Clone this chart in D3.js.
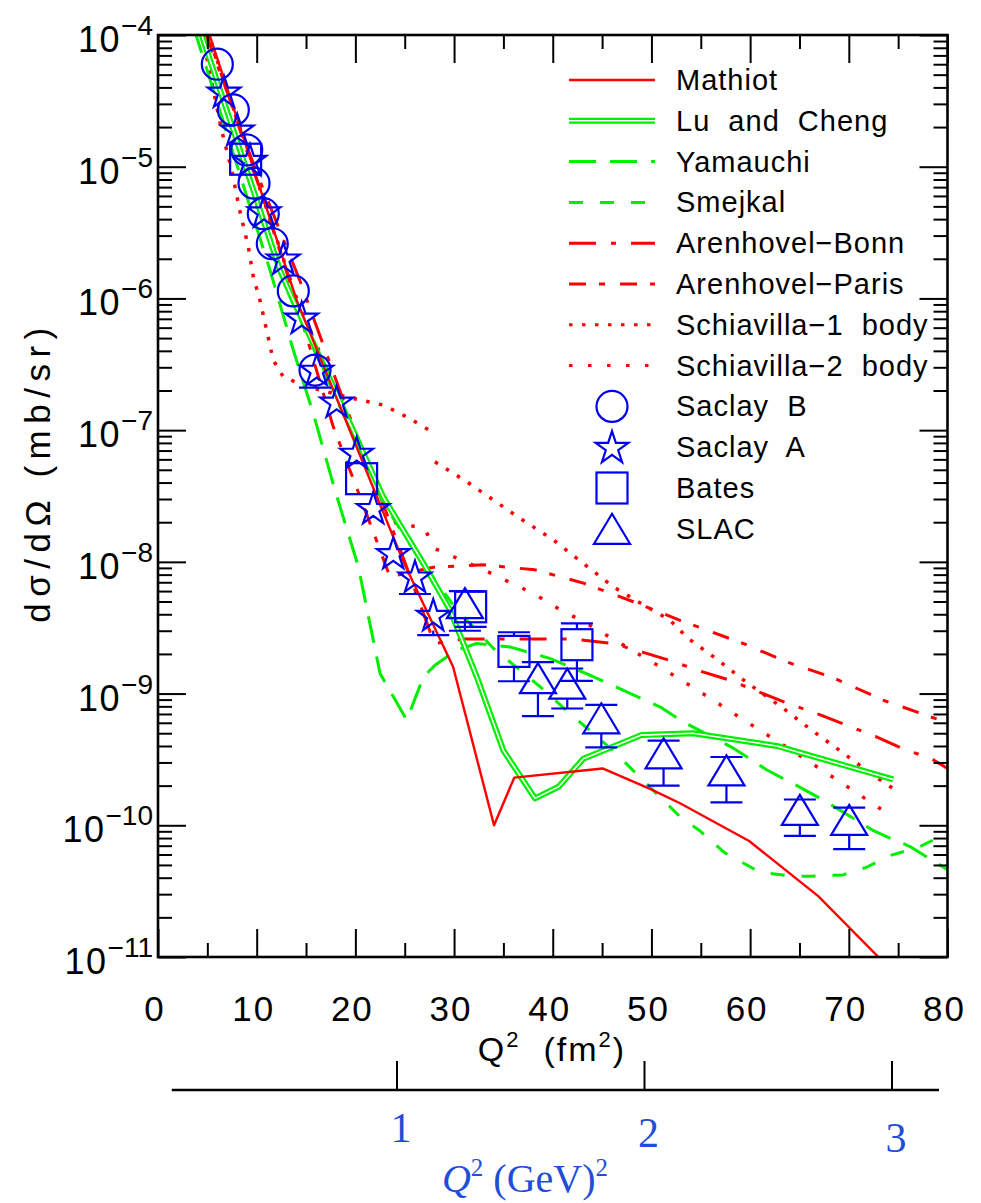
<!DOCTYPE html>
<html>
<head>
<meta charset="utf-8">
<script src="https://cdn.jsdelivr.net/npm/d3@7"></script>
<style>
body { margin: 0; background: #ffffff; }
text { font-family: "Liberation Sans", Arial, sans-serif; fill: #000; }
</style>
</head>
<body>
<div id="chart"></div>
<script>
// theory curves: [Q2 (fm^2), dsigma/dOmega (mb/sr)], null value = gap in the curve
var mathiot = [[4.8,1.25e-4],[10,8.2e-6],[14.05,9.7e-7],[24.8,1.03e-8],[29.9,1.6e-9],[34.05,1.0e-10],[36.1,2.3e-10],
    [45.05,2.7e-10],[49.8,1.9e-10],[52.9,1.47e-10],[59.9,7.6e-11],[66.9,2.9e-11],[73,1.0e-11],[76,5.5e-12]];
var luCheng = [[4.0,1.25e-4],[8,1.57e-5],[12.36,1.64e-6],[13.71,9.7e-7],[17.76,2.14e-7],[22.83,3.1e-8],[26.9,9.7e-9],
    [29.6,4.3e-9],[32.3,1.34e-9],[35,3.7e-10],[38.2,1.6e-10],[40.6,1.96e-10],[43.1,3.2e-10],[49,4.84e-10],
    [54.2,5.0e-10],[62.7,4.0e-10],[74.5,2.23e-10]];
var yamauchi = [[3.6,1.15e-4],[11.35,1.64e-6],[13.71,4.06e-7],[15.73,1.34e-7],[17.93,3.5e-8],[20.3,9.2e-9],[22.5,1.42e-9],
    [23.84,9.5e-10],[25.2,6.3e-10],[26.9,1.34e-9],[28.06,1.64e-9],[30.26,2.14e-9],[32.3,2.4e-9],[35.66,2.26e-9],
    [39.7,1.85e-9],[43.4,1.42e-9],[47.5,1.03e-9],[50.9,7.9e-10],[53.2,6.1e-10],[58.3,3.85e-10],[61.7,2.63e-10],
    [65.3,1.9e-10],[67.7,1.51e-10],[72.5,9.1e-11],[74.5,7.8e-11],[76.2,6.9e-11],[80,4.6e-11]];
var smejkal = [[4.2,1.15e-4],[8,1.45e-5],[12.36,1.55e-6],[13.71,9.0e-7],[17.76,1.95e-7],[22.83,2.8e-8],[26,1.2e-8],
    [30.2,4.4e-9],[34,2.2e-9],[38.7,1.13e-9],[41.7,7.1e-10],[46.1,3.7e-10],[49.7,2.0e-10],[52.9,1.16e-10],
    [54.9,9.1e-11],[57.4,6.2e-11],[61,4.4e-11],[64.3,4.1e-11],[66.1,4.1e-11],[69.4,4.2e-11],[71.8,4.8e-11],
    [74.2,5.9e-11],[77,6.8e-11],[80,8.7e-11]];
var bonn = [[4.6,1.15e-4],[10,9.0e-6],[14.4,1.35e-6],[18.9,1.6e-7],[22,4.0e-8],[25,1.0e-8],[28,2.4e-9],[31,2.6e-9],
    [42,2.6e-9],[46.1,2.4e-9],[49.5,2.02e-9],[51.9,1.78e-9],[55.2,1.46e-9],[58,1.26e-9],[61,1.02e-9],[63.7,8.5e-10],
    [67.1,6.9e-10],[69.8,5.75e-10],[72.8,4.7e-10],[75.2,3.9e-10],[78.5,3.16e-10],[80,2.7e-10]];
var paris = [[4.7,1.2e-4],[10,8.0e-6],[14,9.5e-7],[17.76,1.06e-7],[20.1,3.7e-8],[22,1.55e-8],[23.5,7.7e-9],[27.9,9.1e-9],
    [32.9,9.5e-9],[38.2,8.7e-9],[43.1,6.9e-9],[48.1,5.0e-9],[52.9,3.6e-9],[59.3,2.4e-9],[63.7,1.74e-9],
    [68.4,1.32e-9],[73.5,8.9e-10],[80,6.0e-10]];
var schiav1 = [[4.4,1.05e-4],[4.93,6.8e-5],[5.27,5.1e-5],[6.44,1.9e-5],[7.47,9.4e-6],[8.31,4.55e-6],[9.15,2.47e-6],
    [9.66,1.46e-6],[10.33,9.7e-7],[11.68,3.4e-7],[12.69,2.54e-7],[15.07,2.14e-7],[19.8,1.74e-7],[22.83,1.55e-7],
    [25.2,1.26e-7],[27.4,1.01e-7],[27.7,null],[28.06,5.75e-8],[31.28,4.06e-8],[36.68,2.14e-8],[40.05,1.47e-8],
    [43.09,9.75e-9],[46.13,6.47e-9],[49.51,4.56e-9],[51.87,3.61e-9],[53.73,2.62e-9],[56.77,1.79e-9],
    [59.81,1.19e-9],[63.19,7.9e-10],[66.23,5.28e-10],[69.27,3.61e-10],[72.47,2.4e-10],[74.5,1.9e-10]];
var schiav2 = [[4.8,1.2e-4],[10,8.0e-6],[14.05,1.0e-6],[20,9.0e-8],[24.2,1.9e-8],[26.9,1.85e-8],[28.06,1.26e-8],
    [33,8.7e-9],[34.8,7.5e-9],[38,5.77e-9],[41.1,4.18e-9],[42.8,3.63e-9],[50.5,1.66e-9],[55.2,1.0e-9],
    [59.8,6.0e-10],[64.4,3.63e-10],[68.9,2.19e-10],[73.5,1.29e-10]];

// measurements: [Q2, value, lower error end, upper error end]
var saclayB = [[6.01,6.0e-5],[7.63,2.7e-5],[8.99,1.34e-5],[9.73,7.5e-6],[10.67,4.4e-6],[11.58,2.6e-6],
    [13.71,1.14e-6],[15.91,2.86e-7,2.1e-7,null]];
var saclayA = [[6.69,3.7e-5],[8.03,1.9e-5],[9.32,1.12e-5],[10.74,4.55e-6],[12.7,2.0e-6],[14.56,7.1e-7],
    [16.08,2.86e-7],[18.1,1.64e-7],[20.13,6.7e-8],[21.81,2.55e-8],[23.84,1.16e-8],[26.04,7.7e-9,5.7e-9,null],
    [27.89,3.94e-9,2.78e-9,null]];
var bates = [[8.88,1.14e-5],[20.63,4.28e-8],[31.68,4.56e-9,3.21e-9,5.94e-9],[36.07,2.09e-9,1.24e-9,2.92e-9],
    [42.45,2.35e-9,1.25e-9,3.41e-9]];
var slac = [[31.1,4.86e-9,3.0e-9,6.0e-9],[38.5,1.31e-9,6.75e-10,1.73e-9],[41.47,1.19e-9,7.7e-10,1.55e-9],
    [44.92,6.49e-10,3.9e-10,8.2e-10],[51.23,3.52e-10,2.0e-10,4.39e-10],[57.6,2.61e-10,1.49e-10,3.3e-10],
    [65.04,1.31e-10,8.3e-11,1.57e-10],[70.04,1.1e-10,6.6e-11,1.36e-10]];

var curveNames = ["Mathiot", "Lu  and  Cheng", "Yamauchi", "Smejkal", "Arenhovel\u2212Bonn", "Arenhovel\u2212Paris",
    "Schiavilla\u22121  body", "Schiavilla\u22122  body"];
var pointNames = ["Saclay  B", "Saclay  A", "Bates", "SLAC"];
var q2Ticks = [0, 10, 20, 30, 40, 50, 60, 70, 80];
var q2Minor = [5, 15, 25, 35, 45, 55, 65, 75];
var expTicks = [-4, -5, -6, -7, -8, -9, -10, -11];
var gevTicks = [1, 2, 3];

var red = "#ff0000", green = "#00ee00", blue = "#0000ee", gevBlue = "#1f4fd8";

var svg = d3.select("#chart")
    .append("svg")
    .attr("width", 981)
    .attr("height", 1203);

var x = d3.scaleLinear().domain([0, 80]).range([158, 947.5]);
var y = d3.scaleLog().domain([1e-11, 1e-4]).range([957, 35]);
var gev = d3.scaleLinear().domain([0, 3]).range([149.5, 892]);

svg.append("clipPath").attr("id", "plotclip")
    .append("rect")
    .attr("x", x(0)).attr("y", y(1e-4))
    .attr("width", x(80) - x(0)).attr("height", y(1e-11) - y(1e-4));

// ---- curves ----
var styles = [
    { color: red, width: 2.4, dash: null },
    { color: green, width: 6, dash: null, double: true },
    { color: green, width: 3, dash: "27,14" },
    { color: green, width: 3, dash: "14,17" },
    { color: red, width: 3, dash: "27,15,5,15" },
    { color: red, width: 3, dash: "17,13,6,15" },
    { color: red, width: 3.5, dash: "3.5,9.5" },
    { color: red, width: 3.5, dash: "3.5,15.5" }
];
var curveData = [mathiot, luCheng, yamauchi, smejkal, bonn, paris, schiav1, schiav2];

var line = d3.line()
    .defined(function (d) { return d[1] != null; })
    .x(function (d) { return x(d[0]); })
    .y(function (d) { return y(d[1]); });

var curveG = svg.append("g").attr("clip-path", "url(#plotclip)");
var order = [6, 7, 4, 5, 3, 2, 1, 0];
order.forEach(function (i) {
    var s = styles[i];
    curveG.append("path")
        .attr("d", line(curveData[i]))
        .attr("fill", "none")
        .attr("stroke", s.color)
        .attr("stroke-width", s.width)
        .attr("stroke-dasharray", s.dash)
        .attr("stroke-linejoin", "round");
    if (s.double) {
        curveG.append("path")
            .attr("d", line(curveData[i]))
            .attr("fill", "none")
            .attr("stroke", "#ffffff")
            .attr("stroke-width", 1.6)
            .attr("stroke-linejoin", "round");
    }
});

// ---- data points ----
var star = d3.symbol().type(d3.symbolStar).size(330);

function marker(g, kind, cx, cy) {
    if (kind === 0) {
        g.append("circle").attr("cx", cx).attr("cy", cy).attr("r", 15.5);
    } else if (kind === 1) {
        g.append("path").attr("d", star()).attr("transform", "translate(" + cx + "," + (cy + 1) + ")");
    } else if (kind === 2) {
        g.append("rect").attr("x", cx - 15.5).attr("y", cy - 15.5).attr("width", 31).attr("height", 31);
    } else {
        g.append("path").attr("d", "M" + cx + "," + (cy - 15) + "L" + (cx + 18) + "," + (cy + 15) +
            "L" + (cx - 18) + "," + (cy + 15) + "Z");
    }
}

var ptG = svg.append("g")
    .attr("fill", "none")
    .attr("stroke", blue)
    .attr("stroke-width", 2.2);

[saclayB, saclayA, bates, slac].forEach(function (set, kind) {
    set.forEach(function (d) {
        var cx = x(d[0]), cy = y(d[1]);
        var edge = kind === 3 ? 15 : 15.5;
        [d[2], d[3]].forEach(function (e) {
            if (e == null) return;
            var ey = y(e);
            var dir = ey > cy ? 1 : -1;
            if (Math.abs(ey - cy) > edge) {
                ptG.append("line")
                    .attr("x1", cx).attr("x2", cx)
                    .attr("y1", cy + dir * edge).attr("y2", ey);
            }
            ptG.append("line")
                .attr("x1", cx - 16).attr("x2", cx + 16)
                .attr("y1", ey).attr("y2", ey);
        });
        marker(ptG, kind, cx, cy);
    });
});

// ---- frame and ticks ----
function tickStyle(g) {
    g.select(".domain").remove();
    g.selectAll("line").attr("stroke", "#000").attr("stroke-width", 2);
}
svg.append("g").attr("transform", "translate(0,957)")
    .call(d3.axisBottom(x).tickValues(q2Ticks).tickSize(-28).tickSizeOuter(0).tickFormat(""))
    .call(tickStyle);
svg.append("g").attr("transform", "translate(0,957)")
    .call(d3.axisBottom(x).tickValues(q2Minor).tickSize(-14).tickSizeOuter(0).tickFormat(""))
    .call(tickStyle);
svg.append("g").attr("transform", "translate(0,35)")
    .call(d3.axisTop(x).tickValues(q2Ticks).tickSize(-28).tickSizeOuter(0).tickFormat(""))
    .call(tickStyle);
svg.append("g").attr("transform", "translate(0,35)")
    .call(d3.axisTop(x).tickValues(q2Minor).tickSize(-14).tickSizeOuter(0).tickFormat(""))
    .call(tickStyle);

var yMajor = expTicks.map(function (e) { return Math.pow(10, e); });
var yMinor = y.ticks().filter(function (v) {
    var l = Math.log10(v);
    return Math.abs(l - Math.round(l)) > 1e-6;
});
svg.append("g").attr("transform", "translate(158,0)")
    .call(d3.axisLeft(y).tickValues(yMajor).tickSize(-28).tickSizeOuter(0).tickFormat(""))
    .call(tickStyle);
svg.append("g").attr("transform", "translate(158,0)")
    .call(d3.axisLeft(y).tickValues(yMinor).tickSize(-14).tickSizeOuter(0).tickFormat(""))
    .call(tickStyle);
svg.append("g").attr("transform", "translate(947.5,0)")
    .call(d3.axisRight(y).tickValues(yMajor).tickSize(-28).tickSizeOuter(0).tickFormat(""))
    .call(tickStyle);
svg.append("g").attr("transform", "translate(947.5,0)")
    .call(d3.axisRight(y).tickValues(yMinor).tickSize(-14).tickSizeOuter(0).tickFormat(""))
    .call(tickStyle);

svg.append("rect")
    .attr("x", x(0)).attr("y", y(1e-4))
    .attr("width", x(80) - x(0)).attr("height", y(1e-11) - y(1e-4))
    .attr("fill", "none")
    .attr("stroke", "#000")
    .attr("stroke-width", 2.6);

// ---- tick labels ----
svg.selectAll(".xlab").data(q2Ticks).enter()
    .append("text")
    .attr("class", "xlab")
    .attr("x", function (d) { return x(d) - 3; })
    .attr("y", 1021)
    .attr("text-anchor", "middle")
    .attr("font-size", 35)
    .attr("letter-spacing", 2)
    .text(function (d) { return d; });

svg.selectAll(".ylab").data(expTicks).enter()
    .append("text")
    .attr("class", "ylab")
    .attr("x", 153)
    .attr("y", function (d) { return y(Math.pow(10, d)) + 17; })
    .attr("text-anchor", "end")
    .attr("font-size", 36)
    .each(function (d) {
        var t = d3.select(this);
        t.append("tspan").attr("letter-spacing", 1.5).text("10");
        t.append("tspan").attr("dy", -17).attr("font-size", 28).text("\u2212" + (-d));
    });

// axis titles
var xt = svg.append("text")
    .attr("x", 552).attr("y", 1061)
    .attr("text-anchor", "middle")
    .attr("font-size", 34)
    .attr("letter-spacing", 2)
    .style("white-space", "pre");
xt.append("tspan").text("Q");
xt.append("tspan").attr("dy", -14).attr("font-size", 22).text("2");
xt.append("tspan").attr("dy", 14).text("  (fm");
xt.append("tspan").attr("dy", -14).attr("font-size", 22).text("2");
xt.append("tspan").attr("dy", 14).text(")");

svg.append("text")
    .attr("transform", "translate(50,472) rotate(-90)")
    .attr("text-anchor", "middle")
    .attr("font-size", 35)
    .attr("letter-spacing", 6.5)
    .style("white-space", "pre")
    .text("d\u03c3/d\u03a9 (mb/sr)");

// ---- legend ----
var legY = function (i) { return 80 + i * 40.8; };
curveNames.forEach(function (name, i) {
    var s = styles[i];
    svg.append("line")
        .attr("x1", 569).attr("x2", 655)
        .attr("y1", legY(i)).attr("y2", legY(i))
        .attr("stroke", s.color)
        .attr("stroke-width", s.double ? 6 : Math.min(s.width, 3))
        .attr("stroke-dasharray", s.dash);
    if (s.double) {
        svg.append("line")
            .attr("x1", 569).attr("x2", 655)
            .attr("y1", legY(i)).attr("y2", legY(i))
            .attr("stroke", "#ffffff")
            .attr("stroke-width", 1.6);
    }
});
pointNames.forEach(function (name, k) {
    marker(ptG, k, 612, legY(8 + k));
});
curveNames.concat(pointNames).forEach(function (name, i) {
    svg.append("text")
        .attr("x", 676).attr("y", legY(i) + 10)
        .attr("font-size", 29)
        .attr("letter-spacing", 1)
        .style("white-space", "pre")
        .text(name);
});

// ---- second axis in GeV^2 ----
svg.append("line")
    .attr("x1", gev(0.09)).attr("x2", gev(3.19))
    .attr("y1", 1090).attr("y2", 1090)
    .attr("stroke", "#000").attr("stroke-width", 2.6);
svg.selectAll(".gtick").data(gevTicks).enter()
    .append("line")
    .attr("x1", function (d) { return gev(d); })
    .attr("x2", function (d) { return gev(d); })
    .attr("y1", 1090).attr("y2", 1061)
    .attr("stroke", "#000").attr("stroke-width", 2);
svg.selectAll(".glab").data(gevTicks).enter()
    .append("text")
    .attr("x", function (d) { return gev(d) + 4; })
    .attr("y", function (d, i) { return 1142 + i * 5; })
    .attr("text-anchor", "middle")
    .attr("font-size", 42)
    .style("font-family", "'Liberation Serif', 'Times New Roman', serif")
    .style("fill", gevBlue)
    .text(function (d) { return d; });

var gt = svg.append("text")
    .attr("x", 525).attr("y", 1192)
    .attr("text-anchor", "middle")
    .attr("font-size", 40)
    .style("font-family", "'Liberation Serif', 'Times New Roman', serif")
    .style("fill", gevBlue)
    .style("white-space", "pre");
gt.append("tspan").attr("font-style", "italic").text("Q");
gt.append("tspan").attr("dy", -16).attr("font-size", 25).text("2");
gt.append("tspan").attr("dy", 16).text(" (GeV)");
gt.append("tspan").attr("dy", -16).attr("font-size", 25).text("2");
</script>
</body>
</html>
